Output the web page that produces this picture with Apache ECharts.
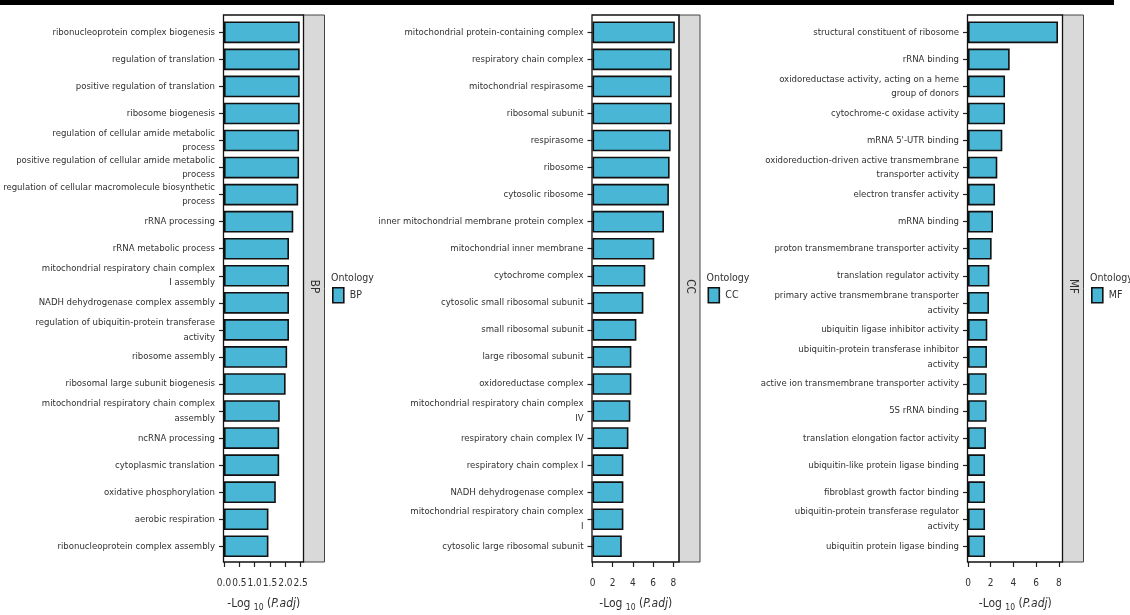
<!DOCTYPE html>
<html><head><meta charset="utf-8">
<script src="https://cdn.jsdelivr.net/npm/echarts@6/dist/echarts.min.js"></script>
<style>html,body{margin:0;padding:0;background:#fff}#c{width:1130px;height:615px}</style>
</head><body><div id="c"></div>
<script>
// ---------- data ----------
const bpCategories = [
  "ribonucleoprotein complex biogenesis",
  "regulation of translation",
  "positive regulation of translation",
  "ribosome biogenesis",
  "regulation of cellular amide metabolic\nprocess",
  "positive regulation of cellular amide metabolic\nprocess",
  "regulation of cellular macromolecule biosynthetic\nprocess",
  "rRNA processing",
  "rRNA metabolic process",
  "mitochondrial respiratory chain complex\nI assembly",
  "NADH dehydrogenase complex assembly",
  "regulation of ubiquitin-protein transferase\nactivity",
  "ribosome assembly",
  "ribosomal large subunit biogenesis",
  "mitochondrial respiratory chain complex\nassembly",
  "ncRNA processing",
  "cytoplasmic translation",
  "oxidative phosphorylation",
  "aerobic respiration",
  "ribonucleoprotein complex assembly"
];
const bpValues = [2.47, 2.47, 2.47, 2.47, 2.45, 2.45, 2.42, 2.26, 2.12, 2.12,
                  2.12, 2.12, 2.06, 2.01, 1.82, 1.80, 1.80, 1.69, 1.45, 1.45];

const ccCategories = [
  "mitochondrial protein-containing complex",
  "respiratory chain complex",
  "mitochondrial respirasome",
  "ribosomal subunit",
  "respirasome",
  "ribosome",
  "cytosolic ribosome",
  "inner mitochondrial membrane protein complex",
  "mitochondrial inner membrane",
  "cytochrome complex",
  "cytosolic small ribosomal subunit",
  "small ribosomal subunit",
  "large ribosomal subunit",
  "oxidoreductase complex",
  "mitochondrial respiratory chain complex\nIV",
  "respiratory chain complex IV",
  "respiratory chain complex I",
  "NADH dehydrogenase complex",
  "mitochondrial respiratory chain complex\nI",
  "cytosolic large ribosomal subunit"
];
const ccValues = [8.16, 7.84, 7.84, 7.84, 7.74, 7.64, 7.57, 7.08, 6.12, 5.23,
                  5.04, 4.35, 3.85, 3.85, 3.75, 3.56, 3.06, 3.06, 3.06, 2.90];

const mfCategories = [
  "structural constituent of ribosome",
  "rRNA binding",
  "oxidoreductase activity, acting on a heme\ngroup of donors",
  "cytochrome-c oxidase activity",
  "mRNA 5'-UTR binding",
  "oxidoreduction-driven active transmembrane\ntransporter activity",
  "electron transfer activity",
  "mRNA binding",
  "proton transmembrane transporter activity",
  "translation regulator activity",
  "primary active transmembrane transporter\nactivity",
  "ubiquitin ligase inhibitor activity",
  "ubiquitin-protein transferase inhibitor\nactivity",
  "active ion transmembrane transporter activity",
  "5S rRNA binding",
  "translation elongation factor activity",
  "ubiquitin-like protein ligase binding",
  "fibroblast growth factor binding",
  "ubiquitin-protein transferase regulator\nactivity",
  "ubiquitin protein ligase binding"
];
const mfValues = [7.92, 3.67, 3.26, 3.26, 3.02, 2.58, 2.38, 2.20, 2.08, 1.88,
                  1.85, 1.70, 1.67, 1.64, 1.64, 1.58, 1.50, 1.50, 1.50, 1.50];

const bpTicks = [0, 0.5, 1, 1.5, 2, 2.5];
const ccTicks = [0, 2, 4, 6, 8];
const mfTicks = [0, 2, 4, 6, 8];
const ontologyNames = ["BP", "CC", "MF"];
const legendTitle = "Ontology";

// ---------- layout ----------
const FONT = '"DejaVu Sans Condensed", "DejaVu Sans", sans-serif';
const BAR = '#4ab6d5';
const TXT = '#303030';
const PANEL_TOP = 15, PANEL_BOTTOM = 562;
const unit = 27.05;
const gridTop = 18.8;
const gridH = 20 * unit;

const panels = [
  {name: ontologyNames[0], cats: bpCategories, vals: bpValues, x0: 224, x1: 303.5, ticks: bpTicks, fmt: v => v.toFixed(1)},
  {name: ontologyNames[1], cats: ccCategories, vals: ccValues, x0: 592.5, x1: 679, ticks: ccTicks, fmt: v => String(v)},
  {name: ontologyNames[2], cats: mfCategories, vals: mfValues, x0: 968, x1: 1062.5, ticks: mfTicks, fmt: v => String(v)}
];

const grid = [], xAxis = [], yAxis = [], series = [], legend = [], graphic = [];

graphic.push({type: 'rect', shape: {x: 0, y: 0, width: 1114, height: 5}, style: {fill: '#000'}, z: 100});

panels.forEach((p, i) => {
  grid.push({left: p.x0, top: gridTop, width: p.x1 - p.x0, height: gridH, containLabel: false, outerBoundsMode: 'none'});
  xAxis.push({
    type: 'value', gridIndex: i, min: 0, max: 1.05 * Math.max(...p.vals),
    offset: PANEL_BOTTOM - (gridTop + gridH),
    axisLine: {show: false},
    splitLine: {show: false},
    axisTick: {show: true, customValues: p.ticks, length: 5, lineStyle: {color: '#222', width: 1.2}},
    axisLabel: {customValues: p.ticks, formatter: p.fmt, margin: 16, showMinLabel: true, showMaxLabel: true,
                fontFamily: FONT, fontSize: 10, color: TXT},
    name: '{a|-Log }{s|10}{a| (}{i|P.adj}{a|)}',
    nameLocation: 'middle', nameGap: 34,
    nameTextStyle: {
      rich: {
        a: {fontFamily: FONT, fontSize: 12, color: TXT, lineHeight: 16},
        i: {fontFamily: FONT, fontSize: 12, fontStyle: 'italic', color: TXT, lineHeight: 16},
        s: {fontFamily: FONT, fontSize: 8.5, color: TXT, lineHeight: 16, verticalAlign: 'bottom', padding: [6, 0, 0, 0]}
      }
    }
  });
  yAxis.push({
    type: 'category', gridIndex: i, data: p.cats, inverse: true,
    axisLine: {show: false},
    axisTick: {show: true, alignWithLabel: true, length: 5, lineStyle: {color: '#222', width: 1.2}},
    axisLabel: {interval: 0, margin: 9, fontFamily: FONT, fontSize: 9.5, lineHeight: 14.5, color: TXT}
  });
  series.push({
    type: 'bar', name: p.name, xAxisIndex: i, yAxisIndex: i, data: p.vals,
    barWidth: '80%',
    itemStyle: {color: BAR, borderColor: '#111', borderWidth: 1.6},
    emphasis: {disabled: true},
    animation: false
  });
  // panel border
  graphic.push({type: 'rect', z: 50,
    shape: {x: p.x0 - 0.5, y: PANEL_TOP, width: p.x1 - p.x0 + 0.5, height: PANEL_BOTTOM - PANEL_TOP},
    style: {fill: 'none', stroke: '#111', lineWidth: 1.3}});
  // strip
  graphic.push({type: 'rect', z: 40,
    shape: {x: p.x1, y: PANEL_TOP, width: 21, height: PANEL_BOTTOM - PANEL_TOP},
    style: {fill: '#d9d9d9', stroke: '#444', lineWidth: 1}});
  graphic.push({type: 'text', z: 60, x: p.x1 + 10.5, y: (PANEL_TOP + PANEL_BOTTOM) / 2 - 2, rotation: -Math.PI / 2,
    style: {text: p.name, font: '11.5px ' + FONT, fill: TXT, align: 'center', verticalAlign: 'middle'}});
  // legend title
  graphic.push({type: 'text', z: 60, x: p.x1 + 27.5, y: 278,
    style: {text: legendTitle, font: '10.5px ' + FONT, fill: TXT, align: 'left', verticalAlign: 'middle'}});
  legend.push({
    data: [p.name], left: p.x1 + 28.5, top: 287, orient: 'vertical', padding: 0,
    icon: 'rect', itemWidth: 11, itemHeight: 15, itemGap: 4, selectedMode: false,
    itemStyle: {color: BAR, borderColor: '#111', borderWidth: 1.6},
    textStyle: {fontFamily: FONT, fontSize: 10.5, color: TXT, padding: [0, 0, 0, 1]}
  });
});

const chart = echarts.init(document.getElementById('c'), null, {renderer: 'canvas'});
chart.setOption({
  animation: false,
  backgroundColor: '#fff',
  grid, xAxis, yAxis, series, legend, graphic
});
</script></body></html>
